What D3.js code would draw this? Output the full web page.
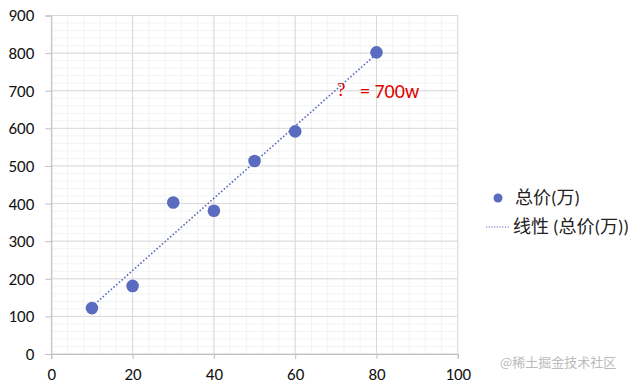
<!DOCTYPE html>
<html><head><meta charset="utf-8">
<script src="https://cdn.jsdelivr.net/npm/d3@7"></script>
<style>body{margin:0;background:#fff}svg{display:block}</style>
</head><body>
<script>
const xValues = [10, 20, 30, 40, 50, 60, 80];
const yValues = [122, 181, 403, 381, 513, 592, 802];
const xTicks = [0, 20, 40, 60, 80, 100];
const yTicks = [0, 100, 200, 300, 400, 500, 600, 700, 800, 900];
const seriesName = "总价(万)";
const trendName = "线性 (总价(万))";
const annotation = "= 700w";

const W = 634, H = 384;
const svg = d3.select("body").append("svg").attr("width", W).attr("height", H);
const x = d3.scaleLinear().domain([0, 100]).range([51.3, 457.8]);
const y = d3.scaleLinear().domain([0, 900]).range([354, 15.5]);
const font = "Carlito, 'Liberation Sans', 'Noto Sans CJK SC', sans-serif";

// minor grid
svg.append("g").selectAll("line").data(d3.range(0, 100.1, 4)).join("line")
  .attr("x1", d => x(d)).attr("x2", d => x(d)).attr("y1", y(0)).attr("y2", y(900))
  .attr("stroke", "#f3f3f3").attr("stroke-width", 1);
svg.append("g").selectAll("line").data(d3.range(0, 900.1, 20)).join("line")
  .attr("y1", d => y(d)).attr("y2", d => y(d)).attr("x1", x(0)).attr("x2", x(100))
  .attr("stroke", "#f3f3f3").attr("stroke-width", 1);
// major grid
svg.append("g").selectAll("line").data(xTicks).join("line")
  .attr("x1", d => x(d)).attr("x2", d => x(d)).attr("y1", y(0)).attr("y2", y(900))
  .attr("stroke", "#d9d9d9").attr("stroke-width", 1);
svg.append("g").selectAll("line").data(yTicks).join("line")
  .attr("y1", d => y(d)).attr("y2", d => y(d)).attr("x1", x(0)).attr("x2", x(100))
  .attr("stroke", "#d9d9d9").attr("stroke-width", 1);

// axes
const xAxis = svg.append("g").attr("transform", `translate(0,${y(0)})`)
  .call(d3.axisBottom(x).tickValues(xTicks).tickSize(5).tickPadding(9));
const yAxis = svg.append("g").attr("transform", `translate(${x(0)},0)`)
  .call(d3.axisLeft(y).tickValues(yTicks).tickSize(6).tickPadding(11));
[xAxis, yAxis].forEach(g => {
  g.selectAll("path,line").attr("stroke", "#bfbfbf");
  g.selectAll("text").attr("font-family", font).attr("font-size", 17).attr("fill", "#111");
});

// trendline (least squares)
const mx = d3.mean(xValues), my = d3.mean(yValues);
const slope = d3.sum(xValues, (v, i) => (v - mx) * (yValues[i] - my)) / d3.sum(xValues, v => (v - mx) ** 2);
const icpt = my - slope * mx;
const x0 = d3.min(xValues), x1 = d3.max(xValues);
svg.append("line")
  .attr("x1", x(x0)).attr("y1", y(icpt + slope * x0))
  .attr("x2", x(x1)).attr("y2", y(icpt + slope * x1))
  .attr("stroke", "#5b6bbf").attr("stroke-width", 1.6).attr("stroke-dasharray", "1.6,2");

// points
svg.append("g").selectAll("circle").data(xValues).join("circle")
  .attr("cx", d => x(d)).attr("cy", (d, i) => y(yValues[i])).attr("r", 6.3)
  .attr("fill", "#5b6bbf");

// annotation
svg.append("text").attr("x", 337).attr("y", 96).text("?")
  .attr("font-family", "'Liberation Serif', serif").attr("font-size", 19).attr("fill", "#e00000");
svg.append("text").attr("x", 360).attr("y", 98).text(annotation)
  .attr("font-family", font).attr("font-size", 20).attr("fill", "#e00000");

// legend
svg.append("circle").attr("cx", 498).attr("cy", 198).attr("r", 4.5).attr("fill", "#5b6bbf");
svg.append("text").attr("x", 515).attr("y", 204).text(seriesName)
  .attr("font-family", font).attr("font-size", 18).attr("fill", "#222");
svg.append("line").attr("x1", 486).attr("x2", 510).attr("y1", 227).attr("y2", 227)
  .attr("stroke", "#5b6bbf").attr("stroke-width", 1.2).attr("stroke-dasharray", "1.2,1.5");
svg.append("text").attr("x", 513).attr("y", 233).text(trendName)
  .attr("font-family", font).attr("font-size", 18).attr("fill", "#222");

// watermark
svg.append("text").attr("x", 500).attr("y", 367).text("@稀土掘金技术社区")
  .attr("font-family", "'Noto Sans CJK SC', sans-serif").attr("font-size", 13).attr("fill", "#bbb");
</script>
</body></html>
